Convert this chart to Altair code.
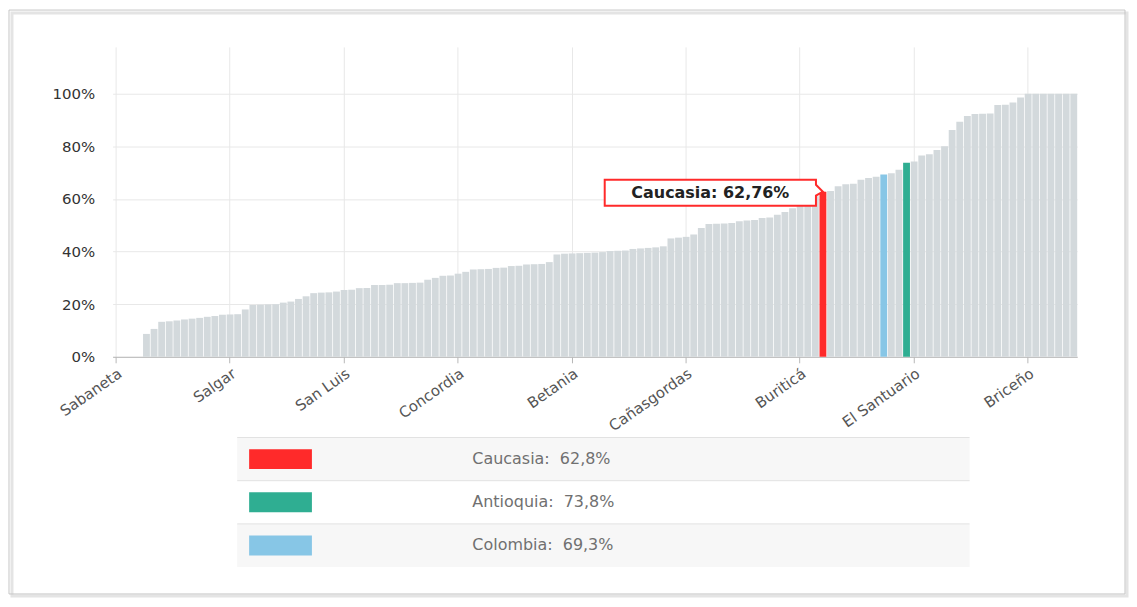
import altair as alt
import pandas as pd

# ---- data (sorted ascending) ----
municipios = [
    "Sabaneta", "Abejorral", "Abriaquí", "Alejandría", "Amagá", "Amalfi", "Andes", "Angelópolis",
    "Angostura", "Anorí", "Anzá", "Apartadó", "Arboletes", "Argelia", "Armenia",
    "Salgar", "Barbosa", "Bello", "Belmira", "Betulia", "Cáceres", "Caicedo", "Caldas",
    "Campamento", "Caracolí", "Caramanta", "Carepa", "Carolina del Príncipe", "Chigorodó", "Cisneros",
    "San Luis", "Ciudad Bolívar", "Cocorná", "Concepción", "Copacabana", "Dabeiba", "Donmatías",
    "Ebéjico", "El Bagre", "El Carmen de Viboral", "El Peñol", "El Retiro", "Entrerríos", "Envigado",
    "Fredonia",
    "Concordia", "Frontino", "Giraldo", "Girardota", "Gómez Plata", "Granada", "Guadalupe", "Guarne",
    "Guatapé", "Heliconia", "Hispania", "Itagüí", "Ituango", "Jardín", "Jericó",
    "Betania", "La Ceja", "La Estrella", "La Pintada", "La Unión", "Liborina", "Maceo", "Marinilla",
    "Medellín", "Montebello", "Murindó", "Mutatá", "Nariño", "Nechí", "Necoclí",
    "Cañasgordas", "Olaya", "Peque", "Pueblorrico", "Puerto Berrío", "Puerto Nare", "Puerto Triunfo",
    "Remedios", "Rionegro", "Sabanalarga", "San Andrés de Cuerquia", "San Carlos", "San Francisco",
    "San Jerónimo", "San José de la Montaña",
    "Buriticá", "San Juan de Urabá", "San Pedro de los Milagros", "Caucasia", "San Pedro de Urabá",
    "San Rafael", "San Roque", "San Vicente Ferrer", "Santa Bárbara", "Santa Fe de Antioquia",
    "Santa Rosa de Osos", "Colombia", "Santo Domingo", "Segovia", "Antioquia",
    "El Santuario", "Sonsón", "Sopetrán", "Támesis", "Tarazá", "Tarso", "Titiribí", "Toledo", "Turbo",
    "Uramita", "Urrao", "Valdivia", "Valparaíso", "Vegachí", "Venecia",
    "Briceño", "Vigía del Fuerte", "Yalí", "Yarumal", "Yolombó", "Yondó", "Zaragoza",
]

valores = [
    0, 0, 0, 0, 8.7, 10.6, 13.3, 13.5, 13.8, 14.2, 14.5, 14.8, 15.2, 15.5, 16.0,
    16.1, 16.2, 18.0, 19.7, 19.8, 19.9, 20.0, 20.6, 21.0, 22.0, 23.0, 24.2, 24.4, 24.5, 24.8,
    25.4, 25.5, 26.1, 26.2, 27.3, 27.3, 27.4, 28.0, 28.0, 28.1, 28.2, 29.3, 30.0, 30.8, 30.9,
    31.6, 32.3, 33.2, 33.3, 33.4, 33.8, 33.9, 34.5, 34.6, 35.1, 35.2, 35.3, 36.0, 38.9, 39.2,
    39.3, 39.4, 39.5, 39.6, 39.8, 40.2, 40.3, 40.4, 41.0, 41.2, 41.4, 41.6, 42.0, 45.0, 45.3,
    45.6, 46.5, 49.0, 50.5, 50.6, 50.7, 50.9, 51.5, 51.8, 52.0, 52.8, 53.0, 54.0, 55.0, 56.5,
    57.5, 59.0, 61.0, 62.76, 63.0, 64.8, 65.6, 65.8, 67.3, 68.0, 68.4, 69.3, 69.8, 71.1, 73.8,
    74.2, 76.5, 77.0, 78.6, 80.0, 86.2, 89.4, 91.5, 92.3, 92.4, 92.5, 95.7, 95.8, 96.7, 98.6,
    100, 100, 100, 100, 100, 100, 100,
]

etiquetas_eje = ["Sabaneta", "Salgar", "San Luis", "Concordia", "Betania",
                 "Cañasgordas", "Buriticá", "El Santuario", "Briceño"]
ticks_y = [0, 20, 40, 60, 80, 100]

resaltados = ["Caucasia", "Antioquia", "Colombia"]
colores_resaltados = ["#ff2a2a", "#2fae92", "#87c6e6"]
color_base = "#d3d9dc"

leyenda_nombres = ["Caucasia", "Antioquia", "Colombia"]
leyenda_valores = [62.8, 73.8, 69.3]

nombre_destacado = "Caucasia"

# ---- tables ----
df = pd.DataFrame({"nombre": municipios, "valor": valores})
df["grupo"] = df["nombre"].where(df["nombre"].isin(resaltados), "otro")
ley = pd.DataFrame({"grupo": leyenda_nombres, "valor": leyenda_valores})

color_scale = alt.Scale(domain=resaltados + ["otro"], range=colores_resaltados + [color_base])

x_enc = alt.X(
    "nombre:N", sort=municipios, title=None,
    scale=alt.Scale(paddingInner=0.1, paddingOuter=0),
    axis=alt.Axis(values=etiquetas_eje, labelAngle=-35, grid=True, gridColor="#e8e8e8",
                  domainColor="#b8b8b8", tickColor="#b8b8b8", tickSize=6,
                  labelFont="DejaVu Sans", labelFontSize=15, labelColor="#555",
                  labelPadding=3),
)
y_enc = alt.Y(
    "valor:Q", title=None,
    scale=alt.Scale(domain=[0, 117.8], nice=False, zero=True),
    axis=alt.Axis(values=ticks_y, labelExpr="datum.value + '%'", grid=True, gridColor="#e8e8e8",
                  domain=False, ticks=False, labelFont="DejaVu Sans", labelFontSize=15,
                  labelColor="#333", labelPadding=18),
)

base = alt.Chart(df)

barras = base.mark_bar().encode(
    x=x_enc, y=y_enc,
    color=alt.Color("grupo:N", scale=color_scale, legend=None),
)

caja_path = ("M -2.19 -0.12 L -0.07 -0.12 L -0.07 -0.07 L 0 0 L -0.07 0.04 "
             "L -0.07 0.14 L -2.19 0.14 Z")
caja = base.transform_filter(
    alt.datum.nombre == nombre_destacado
).mark_point(
    shape=caja_path, size=40000, filled=True, fill="white", stroke="#ff2a2a",
    strokeWidth=2, opacity=1,
).encode(x=x_enc, y=y_enc)

texto_caja = base.transform_filter(
    alt.datum.nombre == nombre_destacado
).transform_calculate(
    etiqueta="datum.nombre + ': ' + replace(format(datum.valor, '.2f'), '.', ',') + '%'"
).mark_text(
    dx=-113, dy=1, align="center", baseline="middle", font="DejaVu Sans",
    fontWeight="bold", fontSize=16, color="#222",
).encode(x=x_enc, y=y_enc, text="etiqueta:N")

principal = alt.layer(barras, caja, texto_caja)

# ---- legend table below the axis ----
y_ley = alt.Y("grupo:N", sort=leyenda_nombres, title=None, axis=None,
              scale=alt.Scale(range=[392, 522], paddingInner=0, paddingOuter=0))
y_ley_top = alt.Y("grupo:N", sort=leyenda_nombres, title=None, axis=None, bandPosition=0,
                  scale=alt.Scale(range=[392, 522], paddingInner=0, paddingOuter=0))

lbase = alt.Chart(ley)
fondo = lbase.mark_rect().encode(
    x=alt.value(125), x2=alt.value(860), y=y_ley,
    fill=alt.condition("datum.grupo == 'Antioquia'", alt.value("#ffffff"), alt.value("#f7f7f7")),
)
separadores = lbase.mark_rule(color="#e2e2e2", strokeWidth=1).encode(
    x=alt.value(125), x2=alt.value(860), y=y_ley_top,
)
muestra_path = "M -3.15 -1 L 3.15 -1 L 3.15 1 L -3.15 1 Z"
muestras = lbase.mark_point(
    shape=muestra_path, size=400, filled=True, opacity=1, strokeWidth=0,
).encode(
    x=alt.value(168.5), y=y_ley,
    color=alt.Color("grupo:N", scale=color_scale, legend=None),
)
textos = lbase.transform_calculate(
    etiqueta="datum.grupo + ':\u00a0\u00a0' + replace(format(datum.valor, '.1f'), '.', ',') + '%'"
).mark_text(
    align="left", baseline="middle", font="DejaVu Sans", fontSize=16, color="#707070",
).encode(x=alt.value(361), y=y_ley, text="etiqueta:N")

leyenda = alt.layer(fondo, separadores, muestras, textos)

# ---- outer frame ----
marco_df = pd.DataFrame({"k": [0]})
sombra = alt.Chart(marco_df).mark_rect(fillOpacity=0, stroke="#e4e4e4", strokeWidth=3).encode(
    x=alt.value(-101), x2=alt.value(1018), y=alt.value(-34), y2=alt.value(551),
)
marco = alt.Chart(marco_df).mark_rect(fillOpacity=0, stroke="#c6c6c6", strokeWidth=1).encode(
    x=alt.value(-104), x2=alt.value(1016), y=alt.value(-37), y2=alt.value(549),
)

chart = alt.layer(sombra, marco, principal, leyenda).resolve_scale(
    y="independent"
).properties(
    width=968, height=311, padding=0, background="white",
).configure_view(strokeWidth=0)

chart.save("out.html", embed_options={"renderer": "svg", "actions": False})
